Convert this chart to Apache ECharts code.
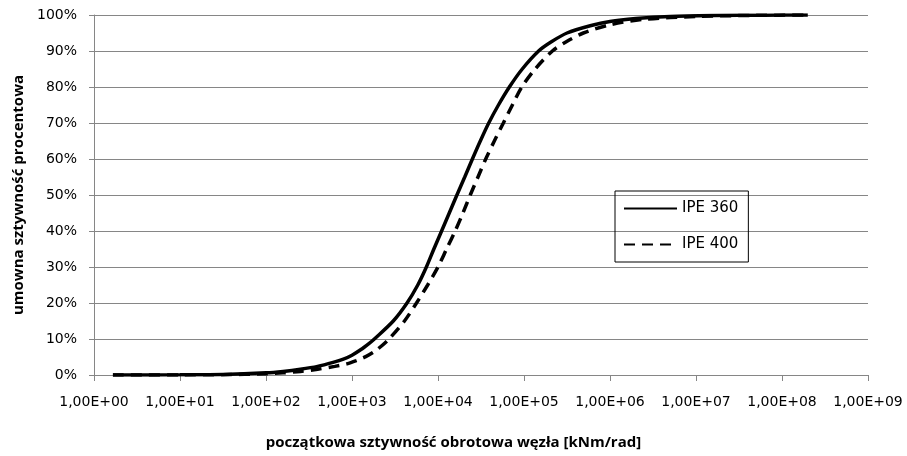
<!DOCTYPE html>
<html>
<head>
<meta charset="utf-8">
<script src="https://cdn.jsdelivr.net/npm/echarts@6/dist/echarts.min.js"></script>
<style>
html,body{margin:0;padding:0;background:#fff;}
#c{width:907px;height:456px;}
</style>
</head>
<body>
<div id="c"></div>
<script>
// Series names
var seriesNames = ['IPE 360', 'IPE 400'];

// IPE 360: x = stiffness [kNm/rad], y = cumulative percent
var ipe360X = [1.66, 10, 31.6, 100, 158, 251, 398, 603, 794, 1000, 1259, 1585, 1820, 3020, 4365, 5821, 7328, 8954, 11015, 13521, 16596, 20464, 25119, 31046, 38905, 50466, 67608, 95499, 147911, 206063, 316228, 588844, 1000000, 1995262, 5011872, 15848932, 63095734, 199526231];
var ipe360Y = [0, 0.05, 0.15, 0.6, 1.0, 1.6, 2.4, 3.5, 4.4, 5.5, 7.0, 8.8, 10, 15, 20, 25, 30, 35, 40, 45, 50, 55, 60, 65, 70, 75, 80, 85, 90, 92.5, 95, 97, 98.2, 99.0, 99.6, 99.85, 99.95, 100];

// IPE 400
var ipe400X = [1.66, 10, 31.6, 100, 158, 251, 398, 631, 871, 1122, 1445, 1820, 2239, 2692, 4074, 5623, 7586, 10000, 12589, 15849, 19498, 23714, 29174, 35892, 45186, 57544, 73282, 94406, 134896, 213796, 306902, 489779, 1000000, 2500000, 10000000, 50000000, 199526231];
var ipe400Y = [0, 0.03, 0.1, 0.35, 0.6, 1.0, 1.6, 2.4, 3.1, 4.0, 5.1, 6.5, 8.2, 10, 15, 20, 25, 30, 35, 40, 45, 50, 55, 60, 65, 70, 75, 80, 85, 90, 92.5, 95, 97.3, 98.8, 99.6, 99.9, 100];

// Axis titles
var xAxisTitle = 'początkowa sztywność obrotowa węzła [kNm/rad]';
var yAxisTitle = 'umowna sztywność procentowa';

function zip(xs, ys){ var o=[]; for(var i=0;i<xs.length;i++){ o.push([xs[i], ys[i]]); } return o; }

var FONT = 'DejaVu Sans';
var TFONT = 'Open Sans';
var chart = echarts.init(document.getElementById('c'), null, {renderer:'canvas'});
chart.setOption({
  backgroundColor: '#ffffff',
  animation: false,
  textStyle: {fontFamily: FONT},
  grid: {left: 94, right: 39, top: 15, bottom: 81, containLabel: false},
  legend: {
    orient: 'vertical',
    left: 615, top: 191,
    padding: [10, 10, 10, 8],
    itemWidth: 53, itemHeight: 14, itemGap: 21,
    borderColor: '#000', borderWidth: 1, borderRadius: 0,
    itemStyle: {opacity: 0},
    textStyle: {fontFamily: FONT, fontSize: 15, color: '#000'},
    data: seriesNames
  },
  graphic: [{
    type: 'text', left: 'center', top: 435,
    style: {text: xAxisTitle, font: 'bold 15px "Open Sans"', fill: '#000'}
  }],
  xAxis: {
    type: 'log', logBase: 10, min: 1, max: 1e9,
    axisLine: {show: true, lineStyle: {color: '#868686', width: 1}},
    axisTick: {show: true, length: 6, lineStyle: {color: '#868686'}},
    minorTick: {show: false},
    splitLine: {show: false},
    axisLabel: {
      fontFamily: FONT, fontSize: 14, color: '#000', margin: 20,
      formatter: function(v){ var e = Math.round(Math.log10(v)); return '1,00E+' + (e < 10 ? '0' + e : e); }
    }
  },
  yAxis: {
    type: 'value', min: 0, max: 100, interval: 10,
    name: yAxisTitle, nameLocation: 'middle', nameGap: 67, nameRotate: 90,
    nameTextStyle: {fontFamily: TFONT, fontSize: 15, fontWeight: 'bold', color: '#000'},
    axisLine: {show: true, lineStyle: {color: '#868686', width: 1}},
    axisTick: {show: true, length: 5, lineStyle: {color: '#868686'}},
    splitLine: {show: true, lineStyle: {color: '#868686', width: 1}},
    axisLabel: {fontFamily: FONT, fontSize: 14, color: '#000', margin: 17, formatter: '{value}%'}
  },
  series: [
    {
      name: seriesNames[0], type: 'line', smooth: 0.3, symbol: 'none',
      data: zip(ipe360X, ipe360Y),
      lineStyle: {color: '#000', width: 3.5, type: 'solid'},
      itemStyle: {color: '#000'}
    },
    {
      name: seriesNames[1], type: 'line', smooth: 0.3, symbol: 'none',
      data: zip(ipe400X, ipe400Y),
      lineStyle: {color: '#000', width: 3.5, type: [11, 7]},
      itemStyle: {color: '#000'}
    }
  ]
});
</script>
</body>
</html>
